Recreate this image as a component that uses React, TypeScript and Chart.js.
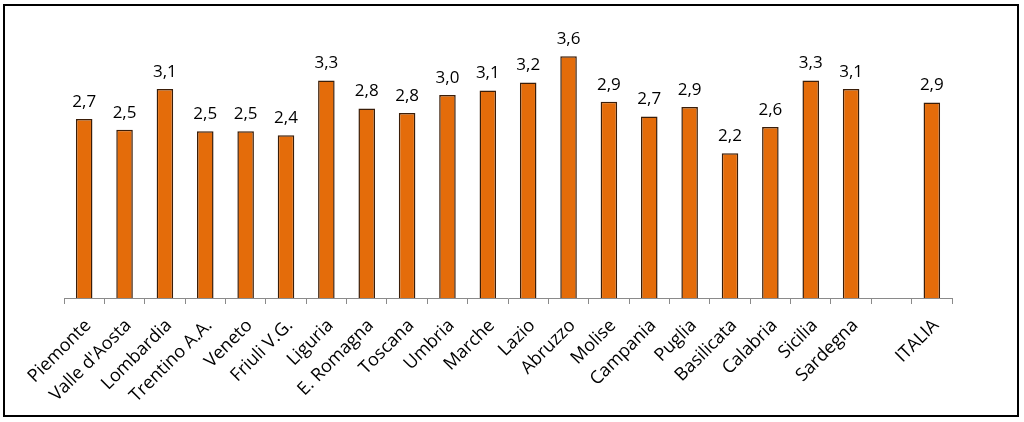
import React, { useEffect, useRef } from "react";
import { Chart, registerables } from "chart.js";

Chart.register(...registerables);

const categories: string[] = [
  "Piemonte", "Valle d'Aosta", "Lombardia", "Trentino A.A.", "Veneto", "Friuli V.G.",
  "Liguria", "E. Romagna", "Toscana", "Umbria", "Marche", "Lazio", "Abruzzo",
  "Molise", "Campania", "Puglia", "Basilicata", "Calabria", "Sicilia", "Sardegna",
  "", "ITALIA",
];

const values: (number | null)[] = [
  2.68, 2.52, 3.13, 2.5, 2.5, 2.44, 3.26, 2.84, 2.77, 3.04, 3.11, 3.23, 3.62,
  2.94, 2.72, 2.86, 2.17, 2.56, 3.26, 3.13, null, 2.93,
];

const yMin = 0;
const yMax = 4;

const FONT = "'Open Sans', 'Noto Sans', sans-serif";

const valueLabels = {
  id: "valueLabels",
  afterDatasetsDraw(chart: any) {
    const ctx = chart.ctx;
    const meta = chart.getDatasetMeta(0);
    const data = chart.data.datasets[0].data as (number | null)[];
    ctx.save();
    ctx.font = `17px ${FONT}`;
    ctx.fillStyle = "#000";
    ctx.textAlign = "center";
    ctx.textBaseline = "alphabetic";
    meta.data.forEach((bar: any, i: number) => {
      const v = data[i];
      if (v === null || v === undefined) return;
      ctx.fillText(v.toFixed(1).replace(".", ","), bar.x, bar.y - 12);
    });
    ctx.restore();
  },
};

export default function App() {
  const canvasRef = useRef<HTMLCanvasElement>(null);

  useEffect(() => {
    if (!canvasRef.current) return;
    const chart = new Chart(canvasRef.current, {
      type: "bar",
      data: {
        labels: categories,
        datasets: [
          {
            data: values,
            backgroundColor: "#E46C0A",
            borderColor: "#3a1d08",
            borderWidth: 1.5,
            categoryPercentage: 1,
            barPercentage: 0.41,
          },
        ],
      },
      options: {
        responsive: false,
        animation: false,
        layout: { padding: { left: 64, right: 72, top: 31, bottom: 0 } },
        plugins: {
          legend: { display: false },
          tooltip: { enabled: false },
        },
        scales: {
          x: {
            grid: {
              display: true,
              drawOnChartArea: false,
              drawTicks: true,
              tickLength: 6,
              color: "#8a8a8a",
              offset: true,
            },
            border: { display: true, color: "#8a8a8a", width: 1 },
            ticks: {
              autoSkip: false,
              maxRotation: 45,
              minRotation: 45,
              color: "#000",
              font: { family: FONT, size: 18 },
              padding: 11,
              labelOffset: 4,
            },
            afterFit: (scale: any) => {
              scale.height = 124;
            },
          },
          y: {
            display: false,
            min: yMin,
            max: yMax,
          },
        },
      },
      plugins: [valueLabels],
    });
    return () => chart.destroy();
  }, []);

  return (
    <div
      style={{
        position: "fixed",
        left: 0,
        top: 0,
        width: 1024,
        height: 422,
        background: "#fff",
      }}
    >
      <canvas
        ref={canvasRef}
        width={1024}
        height={422}
        style={{ position: "absolute", left: 0, top: 0 }}
      />
      <div
        style={{
          position: "absolute",
          left: 3,
          top: 4,
          width: 1016,
          height: 413,
          boxSizing: "border-box",
          border: "2px solid #000",
          pointerEvents: "none",
        }}
      />
    </div>
  );
}
